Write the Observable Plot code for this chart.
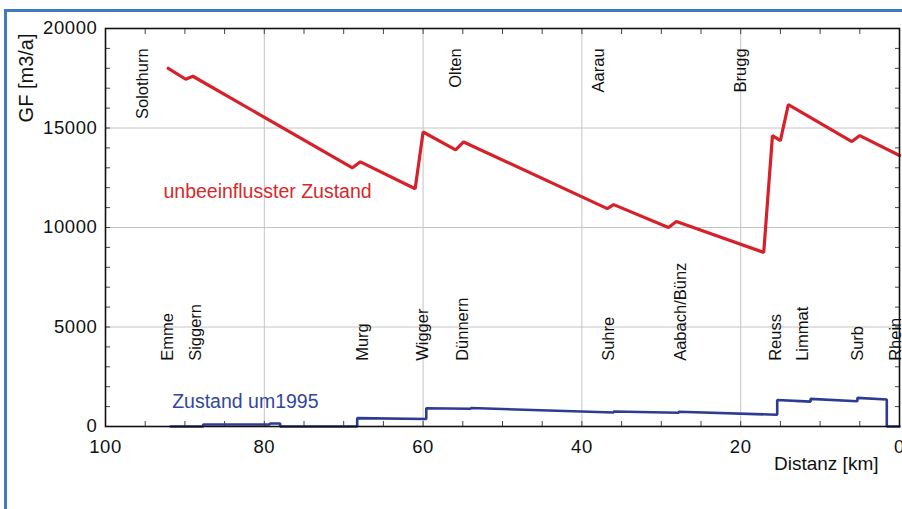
<!DOCTYPE html>
<html>
<head>
<meta charset="utf-8">
<script src="https://cdn.jsdelivr.net/npm/d3@7"></script>
<script src="https://cdn.jsdelivr.net/npm/@observablehq/plot@0.6"></script>
<style>
  html, body { margin: 0; padding: 0; background: #fff; overflow: hidden; }
  #wrap { position: relative; width: 902px; height: 509px; }
  #border { position: absolute; left: 4px; top: 9px; right: -20px; bottom: -20px;
            border-left: 3px solid #3c7cbf; border-top: 3px solid #3c7cbf; pointer-events: none; }
  g[aria-label="x-axis tick label"] text, g[aria-label="y-axis tick label"] text { letter-spacing: 0.6px; }
</style>
</head>
<body>
<div id="wrap"><div id="border"></div></div>
<script>
// Unbeeinflusster Zustand (km, GF m3/a)
const redKm  = [92.1, 89.9, 89.0, 68.9, 67.9, 61.0, 60.0, 55.9, 54.9, 36.8, 36.0, 29.1, 28.1, 17.1, 16.0, 15.0, 14.0, 6.0, 5.0, 0];
const redVal = [18000, 17450, 17600, 13000, 13300, 11950, 14800, 13900, 14300, 10950, 11150, 10000, 10300, 8750, 14620, 14370, 16180, 14320, 14620, 13620];

// Zustand um 1995 (km, GF m3/a), stepwise
const blueKm  = [91.8, 87.7, 87.7, 79.3, 79.3, 78.0, 78.0, 68.3, 68.3, 59.6, 59.6, 54.0, 54.0, 36.0, 36.0, 27.8, 27.8, 15.4, 15.4, 11.2, 11.2, 5.3, 5.3, 1.6, 1.6, 0];
const blueVal = [0, 0, 100, 100, 150, 150, 0, 0, 420, 380, 920, 890, 930, 700, 750, 690, 740, 590, 1330, 1250, 1390, 1270, 1440, 1360, 0, 0];

// Ortsnamen (oben) und Zuflüsse (unten)
const topNames = ["Solothurn", "Olten", "Aarau", "Brugg"];
const topKm    = [95.3, 55.9, 37.9, 20.0];
const botNames = ["Emme", "Siggern", "Murg", "Wigger", "Dünnern", "Suhre", "Aabach/Bünz", "Reuss", "Limmat", "Surb", "Rhein"];
const botKm    = [92.2, 88.7, 67.6, 60.1, 55.0, 36.6, 27.6, 15.6, 12.2, 5.3, 0.5];

// Achsen
const xMajor = [100, 80, 60, 40, 20, 0];
const xMinor = d3.range(0, 101, 5);
const yMajor = [0, 5000, 10000, 15000, 20000];
const yMinor = d3.range(0, 20001, 1000);

const seriesLabels = [
  {km: 92.7, v: 11800, text: "unbeeinflusster Zustand", color: "#d8282c"},
  {km: 91.6, v: 1250, text: "Zustand um1995", color: "#34479b"}
];

const red = redKm.map((k, i) => ({km: k, v: redVal[i]}));
const blue = blueKm.map((k, i) => ({km: k, v: blueVal[i]}));
const tops = topNames.map((n, i) => ({name: n, km: topKm[i]}));
const bots = botNames.map((n, i) => ({name: n, km: botKm[i]}));

const chart = Plot.plot({
  width: 902,
  height: 509,
  marginLeft: 105,
  marginRight: 3,
  marginTop: 28,
  marginBottom: 83,
  style: {fontFamily: "'Liberation Sans', Arial, Helvetica, sans-serif", fontSize: "18px", color: "#111", background: "transparent", overflow: "visible"},
  x: {domain: [100, 0], label: null},
  y: {domain: [0, 20000], label: null},
  marks: [
    Plot.gridX(xMajor.filter(d => d > 0 && d < 100), {stroke: "#c4c4c4", strokeOpacity: 1, strokeWidth: 1}),
    Plot.gridY(yMajor.filter(d => d > 0 && d < 20000), {stroke: "#c4c4c4", strokeOpacity: 1, strokeWidth: 1}),
    Plot.axisX(xMinor, {anchor: "bottom", tickSize: -5, tickFormat: () => "", label: null, stroke: "#444"}),
    Plot.axisX(xMinor, {anchor: "top", tickSize: -5, tickFormat: () => "", label: null, stroke: "#444"}),
    Plot.axisY(yMinor, {anchor: "left", tickSize: -5, tickFormat: () => "", label: null, stroke: "#444"}),
    Plot.axisY(yMinor, {anchor: "right", tickSize: -5, tickFormat: () => "", label: null, stroke: "#444"}),
    Plot.axisX(xMajor, {anchor: "bottom", tickSize: 0, tickPadding: 13, label: null, fontSize: 18.5, fill: "#111"}),
    Plot.axisY(yMajor, {anchor: "left", tickSize: 0, tickPadding: 8, label: null, fontSize: 18.5, fill: "#111", tickFormat: d => String(d)}),
    Plot.text(tops, {x: "km", y: 19000, text: "name", rotate: -90, textAnchor: "end", fontSize: 16.5, fill: "#111"}),
    Plot.text(bots, {x: "km", y: 3300, text: "name", rotate: -90, textAnchor: "start", fontSize: 16.5, fill: "#111"}),
    Plot.line(blue, {x: "km", y: "v", stroke: "#2d3c92", strokeWidth: 2.6, strokeLinejoin: "miter"}),
    Plot.line(red, {x: "km", y: "v", stroke: "#d6202a", strokeWidth: 3.2, strokeLinejoin: "miter"}),
    Plot.frame({stroke: "#111", strokeWidth: 1.6}),
    Plot.text(seriesLabels, {x: "km", y: "v", text: "text", fill: "color", textAnchor: "start", fontSize: 19.5}),
    Plot.text(["GF [m3/a]"], {frameAnchor: "top-left", rotate: -90, textAnchor: "end", dx: -87, dy: 5, fontSize: 20, fill: "#111"}),
    Plot.text(["Distanz [km]"], {frameAnchor: "bottom-right", textAnchor: "end", dx: -21, dy: 43, fontSize: 19, fill: "#111"})
  ]
});
document.getElementById("wrap").prepend(chart);
</script>
</body>
</html>
